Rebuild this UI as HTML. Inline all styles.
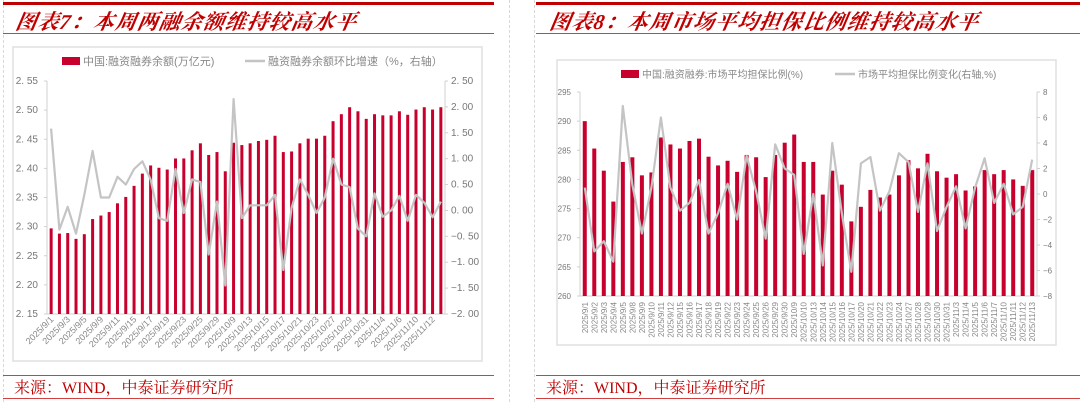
<!DOCTYPE html>
<html><head><meta charset="utf-8">
<style>
body{margin:0;width:1080px;height:402px;background:#fff;overflow:hidden;position:relative;font-family:"Liberation Sans","Noto Sans CJK SC",sans-serif}
.abs{position:absolute}
.title{font-family:"Liberation Serif","Noto Serif CJK SC",serif;font-style:italic;font-weight:bold;color:#c00000;font-size:21px;letter-spacing:1px;transform:skewX(-10deg)}
.src{font-family:"Liberation Serif","Noto Serif CJK SC",serif;color:#c00000;font-size:16px}
svg text{font-family:"Liberation Sans","Noto Sans CJK SC",sans-serif}
</style></head><body>
<div class="abs" style="left:509px;top:0;width:0;height:402px;border-left:1px dashed #d8d8d8"></div>
<div class="abs" style="left:534px;top:0;width:0;height:402px;border-left:1px dashed #d8d8d8"></div>
<div class="abs" style="left:3px;top:0;width:0;height:402px;border-left:1px dashed #d8d8d8"></div>

<div class="abs" style="left:3px;top:2px;width:491px;height:3px;background:#c00000"></div>
<div class="abs title" style="left:16px;top:6px">图表7：本周两融余额维持较高水平</div>
<div class="abs" style="left:3px;top:33px;width:491px;height:1px;background:#d04040"></div>
<div class="abs" style="left:3px;top:375px;width:491px;height:1px;background:#d04040"></div>
<div class="abs src" style="left:14px;top:375px">来源：WIND，中泰证券研究所</div>
<div class="abs" style="left:3px;top:398px;width:491px;height:1px;background:#d04040"></div>

<div class="abs" style="left:536px;top:2px;width:544px;height:3px;background:#c00000"></div>
<div class="abs title" style="left:550px;top:6px">图表8：本周市场平均担保比例维持较高水平</div>
<div class="abs" style="left:536px;top:33px;width:544px;height:1px;background:#d04040"></div>
<div class="abs" style="left:536px;top:375px;width:544px;height:1px;background:#d04040"></div>
<div class="abs src" style="left:546px;top:375px">来源：WIND，中泰证券研究所</div>
<div class="abs" style="left:536px;top:398px;width:544px;height:1px;background:#d04040"></div>

<svg class="abs" id="c1" style="left:0;top:0" width="540" height="402"></svg>
<svg class="abs" id="c2" style="left:540px;top:0" width="540" height="402"></svg>

<script>
const dates = ["9/1","9/2","9/3","9/4","9/5","9/8","9/9","9/10","9/11","9/12","9/15","9/16","9/17","9/18","9/19","9/22","9/23","9/24","9/25","9/26","9/29","9/30","10/9","10/10","10/13","10/14","10/15","10/16","10/17","10/20","10/21","10/22","10/23","10/24","10/27","10/28","10/29","10/30","10/31","11/3","11/4","11/5","11/6","11/7","11/10","11/11","11/12","11/13"];
const balance = [2.297,2.288,2.289,2.279,2.287,2.313,2.319,2.325,2.340,2.351,2.370,2.391,2.405,2.401,2.398,2.417,2.417,2.431,2.443,2.423,2.428,2.395,2.444,2.440,2.443,2.447,2.449,2.456,2.428,2.429,2.443,2.451,2.451,2.456,2.481,2.493,2.505,2.498,2.485,2.493,2.491,2.491,2.498,2.492,2.501,2.505,2.501,2.505];
const balanceChg = [1.58,-0.37,0.07,-0.45,0.3,1.15,0.25,0.25,0.65,0.5,0.8,0.95,0.6,-0.15,-0.2,0.8,-0.05,0.6,0.55,-0.85,0.17,-1.45,2.15,-0.15,0.1,0.1,0.1,0.3,-1.15,0.05,0.6,0.3,-0.05,0.25,1.0,0.5,0.45,-0.35,-0.5,0.33,-0.12,0.0,0.28,-0.2,0.3,0.15,-0.13,0.17];
const leftTicks1 = [2.15,2.20,2.25,2.30,2.35,2.40,2.45,2.50,2.55];
const rightTicks1 = [-2.0,-1.5,-1.0,-0.5,0.0,0.5,1.0,1.5,2.0,2.5];
const ratio = [290,285.3,281.5,276.2,283,283.8,280.7,281.2,287.2,286,285.3,286.6,287,283.9,282.4,283.2,281.3,284.2,283.8,280.4,284.2,286.3,287.7,283,283,277.4,281.5,279.1,272.8,275.3,278.2,276.9,277.4,280.7,283.3,281.9,284.4,281.4,280.3,280.9,278.1,278.8,281.6,280.9,281.6,280,278.9,281.6];
const ratioChg = [0.5,-4.5,-3.7,-5.3,6.9,0.7,-3.1,0.5,6.0,0.5,-1.3,-0.7,1.1,-3.1,-1.5,0.8,-2.0,3.0,0.2,-3.5,3.9,2.0,1.5,-4.7,0.0,-5.6,4.0,-1.5,-6.1,2.4,2.9,-1.3,0.2,3.2,2.5,-1.4,2.4,-2.9,-1.0,0.6,-2.7,0.5,2.8,-0.7,0.8,-1.6,-1.0,2.7];
const leftTicks2 = [260,265,270,275,280,285,290,295];
const rightTicks2 = [-8,-6,-4,-2,0,2,4,6,8];

const NS="http://www.w3.org/2000/svg";
function mk(svg,tag,attrs,txt){const e=document.createElementNS(NS,tag);for(const k in attrs)e.setAttribute(k,attrs[k]);if(txt!==undefined)e.textContent=txt;svg.appendChild(e);return e;}

function draw(o){
  const svg=document.getElementById(o.id);
  const box=mk(svg,'rect',{x:o.box[0],y:o.box[1],width:o.box[2],height:o.box[3],fill:'#fff',stroke:'#e0e0e0','stroke-width':1.5});
  
  const n=dates.length, step=(o.x1-o.x0)/n;
  const xc=i=>o.x0+step*(i+0.5);
  const yL=v=>o.yb-(v-o.lmin)/(o.lmax-o.lmin)*(o.yb-o.yt);
  const yR=v=>o.yb-(v-o.rmin)/(o.rmax-o.rmin)*(o.yb-o.yt);
  // axes
  let a=mk(svg,'line',{x1:o.x0,x2:o.x0,y1:o.yt,y2:o.yb,stroke:'#d0d0d0'});
  a=mk(svg,'line',{x1:o.x1,x2:o.x1,y1:o.yt,y2:o.yb,stroke:'#d0d0d0'});
  a=mk(svg,'line',{x1:o.x0,x2:o.x1,y1:o.yb,y2:o.yb,stroke:'#d0d0d0'});
  o.lt.forEach(v=>{const y=yL(v);
    mk(svg,'line',{x1:o.x0-3,x2:o.x0,y1:y,y2:y,stroke:'#d0d0d0'});
    const t=mk(svg,'text',{x:o.x0-9,y:y+3,'text-anchor':'end','font-size':o.fs,fill:'#777'},o.lfmt(v));
    });
  o.rt.forEach(v=>{const y=yR(v);
    mk(svg,'line',{x1:o.x1,x2:o.x1+3,y1:y,y2:y,stroke:'#d0d0d0'});
    const t=mk(svg,'text',{x:o.x1+6,y:y+3,'text-anchor':'start','font-size':o.fs,fill:'#777'},o.rfmt(v));
    });
  o.bars.forEach((v,i)=>{const y=yL(v);
    const r=mk(svg,'rect',{x:xc(i)-o.bw/2,y:y,width:o.bw,height:o.yb-y,fill:'#c8002e'});
    });
  const pts=o.line.map((v,i)=>xc(i).toFixed(1)+','+yR(v).toFixed(1)).join(' ');
  const pl=mk(svg,'polyline',{points:pts,fill:'none',stroke:'#c4c4c4','stroke-width':2.2,'stroke-linejoin':'round'});
  
  dates.forEach((d,i)=>{if(i%o.every)return;const x=xc(i)+3,y=o.yb+6;
    const t=mk(svg,'text',{x:x,y:y,'text-anchor':'end','font-size':o.xfs,fill:'#888',transform:`rotate(${o.rot} ${x} ${y})`},'2025/'+d);
    });
  // legend
  const L=o.leg;
  let r=mk(svg,'rect',{x:L[0],y:L[1]-4,width:18,height:8,fill:'#c8002e'});
  let t=mk(svg,'text',{x:L[0]+21,y:L[1]+4,'font-size':o.lfs,fill:'#888'},o.l1);
  r=mk(svg,'line',{x1:L[2],x2:L[2]+20,y1:L[1],y2:L[1],stroke:'#c4c4c4','stroke-width':2.5});
  t=mk(svg,'text',{x:L[2]+23,y:L[1]+4,'font-size':o.lfs,fill:'#888'},o.l2);
}

draw({id:'c1',box:[13,47,469,314],x0:47,x1:445,yt:81,yb:314,lmin:2.15,lmax:2.55,rmin:-2,rmax:2.5,
  lt:leftTicks1,rt:rightTicks1,lfmt:v=>v.toFixed(2).replace('.','. '),rfmt:v=>(v<0?'−':'')+Math.abs(v).toFixed(2).replace('.','. '),
  bars:balance,line:balanceChg,bw:3,fs:10,xfs:9,every:2,rot:-45,
  leg:[62,61,245],lfs:11,l1:'中国:融资融券余额(万亿元)',l2:'融资融券余额环比增速（%，右轴）'});
draw({id:'c2',box:[17,60,499,285],x0:580-540,x1:1037-540,yt:92,yb:296,lmin:260,lmax:295,rmin:-8,rmax:8,
  lt:leftTicks2,rt:rightTicks2,lfmt:v=>String(v),rfmt:v=>(v<0?'−':'')+Math.abs(v),
  bars:ratio,line:ratioChg,bw:4,fs:8,xfs:8,every:1,rot:-90,
  leg:[81,74,295],lfs:10,l1:'中国:融资融券:市场平均担保比例(%)',l2:'市场平均担保比例变化(右轴,%)'});
</script>
</body></html>
